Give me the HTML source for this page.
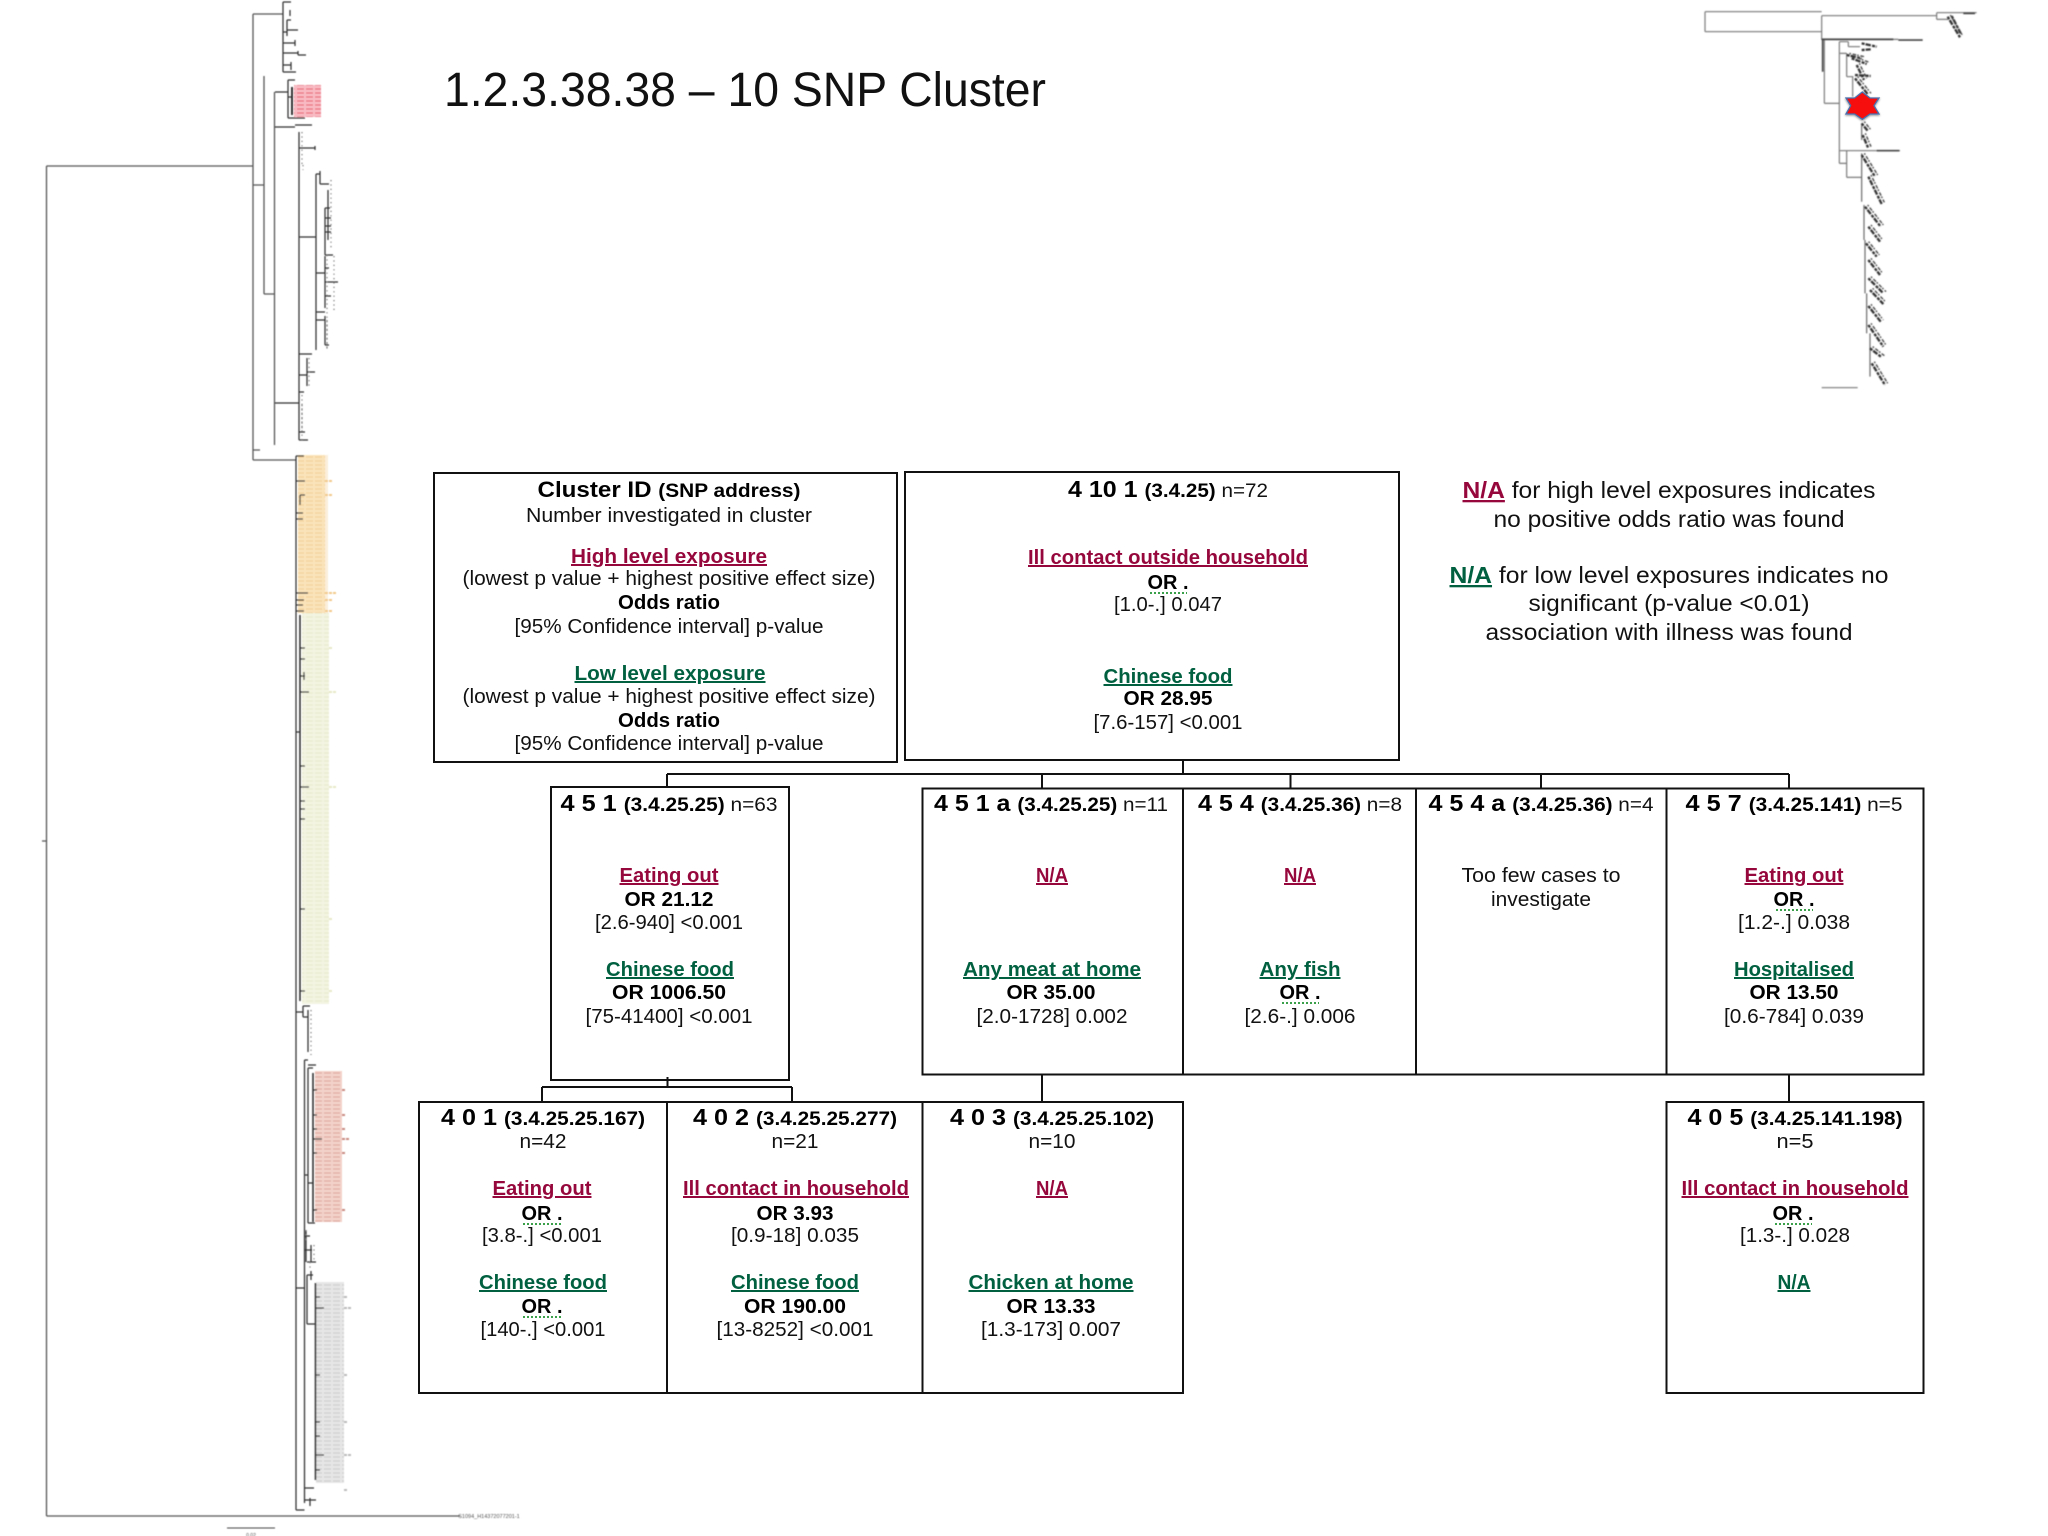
<!DOCTYPE html>
<html><head><meta charset="utf-8"><title>1.2.3.38.38 – 10 SNP Cluster</title>
<style>
html,body{margin:0;padding:0;background:#fff;width:2048px;height:1536px;overflow:hidden}
svg{display:block}
text{font-family:"Liberation Sans",Arial,sans-serif;font-size:20px;fill:#111;text-anchor:middle}
.b{font-weight:bold;fill:#000}
.r{font-weight:bold;fill:#96083c;text-decoration:underline}
.g{font-weight:bold;fill:#00603f;text-decoration:underline}
.h{font-size:19px;font-weight:normal}
.h tspan.n{font-size:23px;font-weight:bold;fill:#000}
.h tspan.a{font-weight:bold;fill:#000}
.box{fill:none;stroke:#111;stroke-width:2}
.tr{fill:none;stroke:#555;stroke-width:1.3}
.dk{fill:none;stroke:#333;stroke-width:1.25}
.dot{fill:none;stroke:#777;stroke-width:1.2;stroke-dasharray:1.2 3.2}
.sq{fill:none;stroke:#3aa04a;stroke-width:2;stroke-dasharray:2 2}
</style></head><body>
<svg width="2048" height="1536" viewBox="0 0 2048 1536" xmlns="http://www.w3.org/2000/svg">
<defs>
<pattern id="po" width="9" height="4" patternUnits="userSpaceOnUse"><rect width="9" height="4" fill="#fae3ba"/><path d="M0 1H7" stroke="#f4cf96" stroke-width="1.1"/></pattern>
<pattern id="py" width="9" height="4" patternUnits="userSpaceOnUse"><rect width="9" height="4" fill="#f3f4e2"/><path d="M0 1H7" stroke="#e8eacb" stroke-width="1.1"/></pattern>
<pattern id="pr" width="9" height="4" patternUnits="userSpaceOnUse"><rect width="9" height="4" fill="#f3d2ca"/><path d="M0 1H7" stroke="#dca79c" stroke-width="1.1"/></pattern>
<pattern id="pp" width="9" height="4" patternUnits="userSpaceOnUse"><rect width="9" height="4" fill="#f9bcc4"/><path d="M0 1H7" stroke="#ea6f7e" stroke-width="1.3"/></pattern>
<pattern id="pg" width="9" height="4" patternUnits="userSpaceOnUse"><rect width="9" height="4" fill="#e6e6e6"/><path d="M0 1H7" stroke="#cccccc" stroke-width="1.1"/></pattern>
<filter id="sh" x="-30%" y="-30%" width="160%" height="160%"><feDropShadow dx="0" dy="3" stdDeviation="3" flood-color="#000" flood-opacity=".45"/></filter>
<filter id="bl" x="-2%" y="-2%" width="104%" height="104%"><feGaussianBlur stdDeviation=".4"/></filter>
</defs>

<g filter="url(#bl)">
<!-- left tree: coloured leaf blocks -->
<rect x="294" y="85" width="27" height="32" fill="url(#pp)"/>
<rect x="298" y="455" width="27" height="158" fill="url(#po)"/>
<rect x="325" y="455" width="3" height="158" fill="#fbeeda"/>
<rect x="302" y="613" width="27" height="391" fill="url(#py)"/>
<rect x="315" y="1071" width="27" height="151" fill="url(#pr)"/>
<rect x="316" y="1282" width="28" height="201" fill="url(#pg)"/>
<path d="M325 593H337M325 481H333M325 495H333M325 600H333M325 611H333" stroke="#f3c98a" stroke-width="2" stroke-dasharray="3 1"/>
<path d="M329 692H337M329 787H337M329 648H333M329 919H333M329 991H333" stroke="#e6e8c6" stroke-width="2" stroke-dasharray="3 1"/>
<path d="M342 1090H346M342 1115H346M342 1129H346M342 1139H350M342 1153H346M342 1210H346" stroke="#c98a80" stroke-width="2" stroke-dasharray="3 1"/>
<path d="M344 1297H348M344 1308H352M344 1375H348M344 1422H348M344 1455H352M344 1490H348" stroke="#bbb" stroke-width="2" stroke-dasharray="3 1"/>

<!-- left tree: branches -->
<path class="tr" d="M46.5 166V1516M46.5 166H253M46.5 1516H460M42 841H46.5M253 14V460M253 14H283M253 185H264M264 76V294M264 294H274.5M274.5 92V445M253 450H260M253 460H296"/>
<path class="dk" d="M283 2V72M283 2H291M283 72H296M283 32H287M287 20V36M287 20H291M287 30H298M290 10V16M283 43H295M295 40V46M283 53H298M298 51V55M298 55H306M283 65H291M291 62V70"/>
<path class="dk" d="M275 92H288M288 80V118M288 80H295M288 118H305M288 97H292M275 127H295M295 125H312"/>
<path stroke="#333" stroke-width="2" fill="none" d="M292 87V115"/>
<path class="dk" d="M299 132V440M275 403H299M299 148H315M315 146V150M299 237H316M316 174V350M316 174H320M320 171V184M320 184H329M316 273H325M325 208V255M325 208H330M328 190V240M325 218H331M325 226H331M325 232H331M325 255H333M316 312H325M325 256V308M325 268H329M325 282H338M325 296H331M316 320H325M325 316V345M325 345H329"/>
<path class="dk" d="M299 354H312M299 375H307M307 358V386M307 372H315M299 392H304M299 432H305M299 440H308"/>
<path class="dot" d="M302 132V165M302 395V440M303 165V170M331 180V250M334 256V310M327 255V350M327 320V348M309 358V386M302 405V430"/>

<path class="dk" d="M296 456V1510M296 456H304M296 481H305M300 495V505M300 495H305M296 513H303M296 519H303M296 593H308M296 600H304M296 605H303M296 611H304"/>
<path stroke="#333" stroke-width="1.6" fill="none" d="M300 615V1001"/>
<path class="dk" d="M300 648H305M300 659H305M300 676H305M304 672V680M300 692H309M296 732H300M300 766H305M300 787H309M300 801H305M300 809H305M300 819H305M300 909H305M300 991H305"/>
<path class="dk" d="M296 1012H303M303 1006V1017M303 1006H310M303 1017H308M308 1010V1052M308 1065H316"/>
<path class="dot" d="M311 1010V1055"/>
<path class="dk" d="M304.5 1060V1503M304.5 1060H308M308 1068V1223M308 1068H313M304.5 1175H308M308 1183H313M308 1223H315"/>
<path stroke="#333" stroke-width="1.6" fill="none" d="M313 1073V1222M315.5 1283V1480"/>
<path class="dk" d="M313 1090H317M313 1115H317M313 1129H317M313 1139H322M313 1153H317M313 1210H317"/>
<path class="dk" d="M304.5 1236H310M306 1230V1262M304.5 1250H312M311 1245V1262M307 1262H316M296 1288H304.5M307 1275V1324M307 1275H313M311 1271V1280M307 1324H315"/>
<path class="dot" d="M306 1230V1240M314 1245V1262M310 1262V1270"/>
<path class="dk" d="M315.5 1297H320M315.5 1308H324M315.5 1375H320M315.5 1422H320M315.5 1436H320M315.5 1455H324M315.5 1470H320"/>
<path class="dk" d="M304.5 1488H314M304.5 1500H316M310 1498V1506M296 1510H304.5"/>
<path stroke="#444" stroke-width="1" fill="none" d="M227 1528H275"/>
<text x="251" y="1537" style="font-size:5px;fill:#555">0.02</text>
<text x="489" y="1518" style="font-size:5.5px;fill:#555">S1094_H14372077201-1</text>

<!-- mini tree, top right -->
<g transform="translate(1680,0) scale(.3333)">
<path fill="none" stroke="#777" stroke-width="3.5" d="M75 35V95M75 35H425M75 95H425M425 47V120M425 47H770M770 38V58M770 38H890M770 58H805M425 118H655M433 120V310M433 310H477M478 125V490M478 125H505M478 490H500M480 452H660M500 452V532M500 532H545M480 160H500M500 160V230M500 230H520M518 230V290M505 125V140M505 140H540M425 1163H533"/>
<path fill="none" stroke="#444" stroke-width="5" d="M425 118H640M428 120V215M590 452H658M655 120H728M850 40H885"/>
<path fill="none" stroke="#666" stroke-width="3.5" d="M545 460V605M552 615V720M555 720V880M560 880V1000M570 1000V1130M545 370V420"/>
<g fill="none" stroke="#333" stroke-width="7" stroke-dasharray="9 3 16 4">
<path d="M803 50L840 112M815 48L842 100"/>
<path d="M545 130L590 140M545 150L572 148"/>
<path d="M500 165L545 175M515 175L560 192M530 195L552 240M525 225L572 228M525 235L565 285"/>
<path d="M545 370L565 395M548 405L565 445"/>
<path d="M545 465L585 530M565 530L605 612"/>
<path d="M555 620L602 680M565 680L600 725"/>
<path d="M558 730L590 770M565 780L600 825M565 835L610 880M570 870L610 912"/>
<path d="M565 918L602 965M565 975L610 1040M570 1045L605 1072M575 1090L615 1155"/>
</g>
<g fill="none" stroke="#444" stroke-width="4" stroke-dasharray="5 5 11 3" transform="translate(8,-5)">
<path d="M803 50L840 112"/>
<path d="M500 165L545 175M515 175L560 192M530 195L552 240M525 235L565 285"/>
<path d="M545 370L565 395M548 405L565 445"/>
<path d="M545 465L585 530M565 530L605 612"/>
<path d="M555 620L602 680M565 680L600 725"/>
<path d="M558 730L590 770M565 780L600 825M565 835L610 880M570 870L610 912"/>
<path d="M565 918L602 965M565 975L610 1040M570 1045L605 1072M575 1090L615 1155"/>
</g>
</g>
</g>

<g transform="translate(1680,0) scale(.3333)" filter="url(#sh)">
<path d="M547 276L570 294H597L582 317L597 342H570L547 358L524 342H498L512 317L498 294H524Z" fill="#f60a0a" stroke="#4a6fae" stroke-width="4"/>
</g>

<!-- title -->
<text x="745" y="106" style="font-size:48px;fill:#111" textLength="602" lengthAdjust="spacingAndGlyphs">1.2.3.38.38 – 10 SNP Cluster</text>

<!-- boxes -->
<rect class="box" x="434" y="473" width="463" height="289"/>
<rect class="box" x="905" y="472" width="494" height="288"/>
<rect class="box" x="551" y="787" width="238" height="293"/>
<rect class="box" x="922.5" y="788.5" width="1001" height="286"/>
<path class="box" d="M1183 788V1074M1416 788V1074M1666.5 788V1074"/>
<rect class="box" x="419" y="1102" width="764" height="291"/>
<path class="box" d="M667 1102V1393M922.5 1102V1393"/>
<rect class="box" x="1666.5" y="1102" width="257" height="291"/>

<!-- connectors -->
<path class="box" d="M1183 760V774M667 774H1789M667 774V787M1042 774V788M1290.5 774V788M1541 774V788M1789 774V788"/>
<path class="box" d="M667.5 1077V1087M542 1087H792M542 1087V1102M792 1087V1102M1042 1074V1102M1789 1074V1102"/>

<!-- legend box -->
<text x="669" y="497" class="b" style="font-size:22px" textLength="263" lengthAdjust="spacingAndGlyphs">Cluster ID <tspan style="font-size:19px">(SNP address)</tspan></text>
<text x="669" y="522" textLength="286" lengthAdjust="spacingAndGlyphs">Number investigated in cluster</text>
<text x="669" y="563" class="r" textLength="196" lengthAdjust="spacingAndGlyphs">High level exposure</text>
<text x="669" y="585" textLength="413" lengthAdjust="spacingAndGlyphs">(lowest p value + highest positive effect size)</text>
<text x="669" y="609" class="b" textLength="102" lengthAdjust="spacingAndGlyphs">Odds ratio</text>
<text x="669" y="633" textLength="309" lengthAdjust="spacingAndGlyphs">[95% Confidence interval] p-value</text>
<text x="670" y="680" class="g" textLength="191" lengthAdjust="spacingAndGlyphs">Low level exposure</text>
<text x="669" y="703" textLength="413" lengthAdjust="spacingAndGlyphs">(lowest p value + highest positive effect size)</text>
<text x="669" y="727" class="b" textLength="102" lengthAdjust="spacingAndGlyphs">Odds ratio</text>
<text x="669" y="750" textLength="309" lengthAdjust="spacingAndGlyphs">[95% Confidence interval] p-value</text>

<!-- 4 10 1 -->
<text x="1168" y="497" class="h" textLength="200" lengthAdjust="spacingAndGlyphs"><tspan class="n">4 10 1 </tspan><tspan class="a">(3.4.25) </tspan>n=72</text>
<text x="1168" y="564" class="r" textLength="280" lengthAdjust="spacingAndGlyphs">Ill contact outside household</text>
<text x="1168" y="589" class="b" textLength="41" lengthAdjust="spacingAndGlyphs">OR .</text><path class="sq" d="M1150 593H1187"/>
<text x="1168" y="611" textLength="108" lengthAdjust="spacingAndGlyphs">[1.0-.] 0.047</text>
<text x="1168" y="683" class="g" textLength="129" lengthAdjust="spacingAndGlyphs">Chinese food</text>
<text x="1168" y="705" class="b" textLength="89" lengthAdjust="spacingAndGlyphs">OR 28.95</text>
<text x="1168" y="729" textLength="149" lengthAdjust="spacingAndGlyphs">[7.6-157] &lt;0.001</text>

<g transform="translate(0,1)">
<!-- 4 5 1 -->
<text x="669" y="810" class="h" textLength="217" lengthAdjust="spacingAndGlyphs"><tspan class="n">4 5 1 </tspan><tspan class="a">(3.4.25.25) </tspan>n=63</text>
<text x="669" y="881" class="r" textLength="99" lengthAdjust="spacingAndGlyphs">Eating out</text>
<text x="669" y="905" class="b" textLength="89" lengthAdjust="spacingAndGlyphs">OR 21.12</text>
<text x="669" y="928" textLength="148" lengthAdjust="spacingAndGlyphs">[2.6-940] &lt;0.001</text>
<text x="670" y="975" class="g" textLength="128" lengthAdjust="spacingAndGlyphs">Chinese food</text>
<text x="669" y="998" class="b" textLength="114" lengthAdjust="spacingAndGlyphs">OR 1006.50</text>
<text x="669" y="1022" textLength="167" lengthAdjust="spacingAndGlyphs">[75-41400] &lt;0.001</text>

<!-- 4 5 1 a -->
<text x="1051" y="810" class="h" textLength="234" lengthAdjust="spacingAndGlyphs"><tspan class="n">4 5 1 a </tspan><tspan class="a">(3.4.25.25) </tspan>n=11</text>
<text x="1052" y="881" class="r" textLength="32" lengthAdjust="spacingAndGlyphs">N/A</text>
<text x="1052" y="975" class="g" textLength="178" lengthAdjust="spacingAndGlyphs">Any meat at home</text>
<text x="1051" y="998" class="b" textLength="89" lengthAdjust="spacingAndGlyphs">OR 35.00</text>
<text x="1052" y="1022" textLength="151" lengthAdjust="spacingAndGlyphs">[2.0-1728] 0.002</text>

<!-- 4 5 4 -->
<text x="1300" y="810" class="h" textLength="204" lengthAdjust="spacingAndGlyphs"><tspan class="n">4 5 4 </tspan><tspan class="a">(3.4.25.36) </tspan>n=8</text>
<text x="1300" y="881" class="r" textLength="32" lengthAdjust="spacingAndGlyphs">N/A</text>
<text x="1300" y="975" class="g" textLength="81" lengthAdjust="spacingAndGlyphs">Any fish</text>
<text x="1300" y="998" class="b" textLength="41" lengthAdjust="spacingAndGlyphs">OR .</text><path class="sq" d="M1282 1002H1319"/>
<text x="1300" y="1022" textLength="111" lengthAdjust="spacingAndGlyphs">[2.6-.] 0.006</text>

<!-- 4 5 4 a -->
<text x="1541" y="810" class="h" textLength="225" lengthAdjust="spacingAndGlyphs"><tspan class="n">4 5 4 a </tspan><tspan class="a">(3.4.25.36) </tspan>n=4</text>
<text x="1541" y="881" textLength="159" lengthAdjust="spacingAndGlyphs">Too few cases to</text>
<text x="1541" y="905" textLength="100" lengthAdjust="spacingAndGlyphs">investigate</text>

<!-- 4 5 7 -->
<text x="1794" y="810" class="h" textLength="217" lengthAdjust="spacingAndGlyphs"><tspan class="n">4 5 7 </tspan><tspan class="a">(3.4.25.141) </tspan>n=5</text>
<text x="1794" y="881" class="r" textLength="99" lengthAdjust="spacingAndGlyphs">Eating out</text>
<text x="1794" y="905" class="b" textLength="41" lengthAdjust="spacingAndGlyphs">OR .</text><path class="sq" d="M1776 909H1813"/>
<text x="1794" y="928" textLength="112" lengthAdjust="spacingAndGlyphs">[1.2-.] 0.038</text>
<text x="1794" y="975" class="g" textLength="120" lengthAdjust="spacingAndGlyphs">Hospitalised</text>
<text x="1794" y="998" class="b" textLength="89" lengthAdjust="spacingAndGlyphs">OR 13.50</text>
<text x="1794" y="1022" textLength="140" lengthAdjust="spacingAndGlyphs">[0.6-784] 0.039</text>

<!-- 4 0 1 -->
<text x="543" y="1124" class="h" textLength="204" lengthAdjust="spacingAndGlyphs"><tspan class="n">4 0 1 </tspan><tspan class="a">(3.4.25.25.167)</tspan></text>
<text x="543" y="1147" textLength="47" lengthAdjust="spacingAndGlyphs">n=42</text>
<text x="542" y="1194" class="r" textLength="99" lengthAdjust="spacingAndGlyphs">Eating out</text>
<text x="542" y="1219" class="b" textLength="41" lengthAdjust="spacingAndGlyphs">OR .</text><path class="sq" d="M523 1223H561"/>
<text x="542" y="1241" textLength="120" lengthAdjust="spacingAndGlyphs">[3.8-.] &lt;0.001</text>
<text x="543" y="1288" class="g" textLength="128" lengthAdjust="spacingAndGlyphs">Chinese food</text>
<text x="542" y="1312" class="b" textLength="41" lengthAdjust="spacingAndGlyphs">OR .</text><path class="sq" d="M523 1316H561"/>
<text x="543" y="1335" textLength="125" lengthAdjust="spacingAndGlyphs">[140-.] &lt;0.001</text>

<!-- 4 0 2 -->
<text x="795" y="1124" class="h" textLength="204" lengthAdjust="spacingAndGlyphs"><tspan class="n">4 0 2 </tspan><tspan class="a">(3.4.25.25.277)</tspan></text>
<text x="795" y="1147" textLength="47" lengthAdjust="spacingAndGlyphs">n=21</text>
<text x="796" y="1194" class="r" textLength="226" lengthAdjust="spacingAndGlyphs">Ill contact in household</text>
<text x="795" y="1219" class="b" textLength="77" lengthAdjust="spacingAndGlyphs">OR 3.93</text>
<text x="795" y="1241" textLength="128" lengthAdjust="spacingAndGlyphs">[0.9-18] 0.035</text>
<text x="795" y="1288" class="g" textLength="128" lengthAdjust="spacingAndGlyphs">Chinese food</text>
<text x="795" y="1312" class="b" textLength="102" lengthAdjust="spacingAndGlyphs">OR 190.00</text>
<text x="795" y="1335" textLength="157" lengthAdjust="spacingAndGlyphs">[13-8252] &lt;0.001</text>

<!-- 4 0 3 -->
<text x="1052" y="1124" class="h" textLength="204" lengthAdjust="spacingAndGlyphs"><tspan class="n">4 0 3 </tspan><tspan class="a">(3.4.25.25.102)</tspan></text>
<text x="1052" y="1147" textLength="47" lengthAdjust="spacingAndGlyphs">n=10</text>
<text x="1052" y="1194" class="r" textLength="32" lengthAdjust="spacingAndGlyphs">N/A</text>
<text x="1051" y="1288" class="g" textLength="165" lengthAdjust="spacingAndGlyphs">Chicken at home</text>
<text x="1051" y="1312" class="b" textLength="89" lengthAdjust="spacingAndGlyphs">OR 13.33</text>
<text x="1051" y="1335" textLength="140" lengthAdjust="spacingAndGlyphs">[1.3-173] 0.007</text>

<!-- 4 0 5 -->
<text x="1795" y="1124" class="h" textLength="215" lengthAdjust="spacingAndGlyphs"><tspan class="n">4 0 5 </tspan><tspan class="a">(3.4.25.141.198)</tspan></text>
<text x="1795" y="1147" textLength="37" lengthAdjust="spacingAndGlyphs">n=5</text>
<text x="1795" y="1194" class="r" textLength="227" lengthAdjust="spacingAndGlyphs">Ill contact in household</text>
<text x="1793" y="1219" class="b" textLength="41" lengthAdjust="spacingAndGlyphs">OR .</text><path class="sq" d="M1775 1223H1812"/>
<text x="1795" y="1241" textLength="110" lengthAdjust="spacingAndGlyphs">[1.3-.] 0.028</text>
<text x="1794" y="1288" class="g" textLength="33" lengthAdjust="spacingAndGlyphs">N/A</text>
</g>

<!-- legend text -->
<text x="1669" y="498" style="font-size:23px" textLength="413" lengthAdjust="spacingAndGlyphs"><tspan class="r" style="font-size:23px">N/A</tspan> for high level exposures indicates</text>
<text x="1669" y="527" style="font-size:23px" textLength="351" lengthAdjust="spacingAndGlyphs">no positive odds ratio was found</text>
<text x="1669" y="583" style="font-size:23px" textLength="439" lengthAdjust="spacingAndGlyphs"><tspan class="g" style="font-size:23px">N/A</tspan> for low level exposures indicates no</text>
<text x="1669" y="611" style="font-size:23px" textLength="281" lengthAdjust="spacingAndGlyphs">significant (p-value &lt;0.01)</text>
<text x="1669" y="640" style="font-size:23px" textLength="367" lengthAdjust="spacingAndGlyphs">association with illness was found</text>
</svg>
</body></html>
